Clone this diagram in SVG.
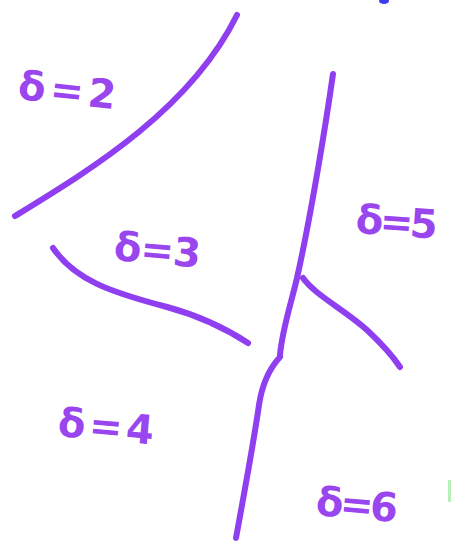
<svg xmlns="http://www.w3.org/2000/svg" width="451" height="553" viewBox="0 0 451 553">
<style>
.c{fill:none;stroke:#8f3ff0;stroke-width:6;stroke-linecap:round;stroke-linejoin:round}
.t{font-family:"DejaVu Sans",sans-serif;font-weight:bold;font-size:40px;fill:#9a46ee}
</style>
<rect width="451" height="553" fill="#ffffff"/>
<g id="connectors">
<path class="c" d="M15,216 C90,170 190,110 237,15"/>
<path class="c" d="M333,74 C325,130 310,220 297,278 C292,300 282,330 280,355"/>
<path class="c" d="M280,357 C268,370 262,385 259,405 C254,440 243,500 236,538"/>
<path class="c" d="M53,248 C75,280 110,292 167,307 C200,316 225,328 248,343"/>
<path class="c" d="M303,278 C315,295 345,310 367,330 C383,345 392,355 400,367"/>
</g>
<g id="label-d2"><text class="t" x="17" y="99" textLength="98" transform="rotate(6 17 99)">δ=2</text></g>
<g id="label-d3"><text class="t" x="113" y="260" textLength="87" transform="rotate(5 113 260)">δ=3</text></g>
<g id="label-d5"><text class="t" x="355" y="233" textLength="82" transform="rotate(4 355 233)">δ=5</text></g>
<g id="label-d4"><text class="t" x="57" y="436" textLength="96" transform="rotate(5 57 436)">δ=4</text></g>
<g id="label-d6"><text class="t" x="315" y="515" textLength="82" transform="rotate(5 315 515)">δ=6</text></g>
<ellipse cx="384" cy="1" rx="5" ry="3" fill="#3a3af0"/>
<rect x="448" y="480" width="3" height="22" fill="#b8efb8"/>
</svg>
